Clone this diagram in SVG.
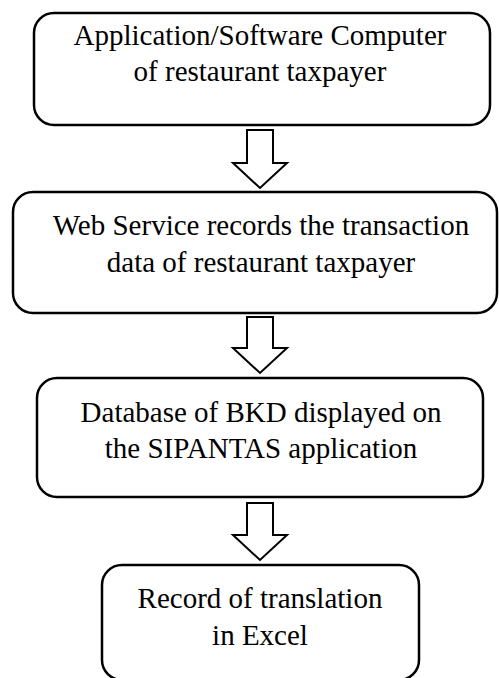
<svg xmlns="http://www.w3.org/2000/svg" width="499" height="678" viewBox="0 0 499 678">
<style>
.box{fill:#fff;stroke:#000;stroke-width:2.5}
.arr{fill:#fff;stroke:#000;stroke-width:2}
text{font-family:"Liberation Serif","Times New Roman",serif;font-size:29px;fill:#000;text-anchor:middle}
</style>
<rect width="499" height="678" fill="#fff"/>
<g id="connectors">
<path class="arr" d="M247,130 H273 V163 H287 L260,188 L233,163 H247 Z"/>
<path class="arr" d="M247,317 H273 V348 H287 L260,373 L233,348 H247 Z"/>
<path class="arr" d="M247,503 H273 V535 H287 L260,560 L233,535 H247 Z"/>
</g>
<g id="node1">
<rect class="box" x="34" y="13" width="456" height="112" rx="20"/>
<text x="260" y="45">Application/Software Computer</text>
<text x="260" y="81">of restaurant taxpayer</text>
</g>
<g id="node2">
<rect class="box" x="13" y="192" width="484" height="121" rx="20"/>
<text x="261" y="235">Web Service records the transaction</text>
<text x="261" y="272">data of restaurant taxpayer</text>
</g>
<g id="node3">
<rect class="box" x="37" y="378" width="446" height="119" rx="20"/>
<text x="261" y="422">Database of BKD displayed on</text>
<text x="261" y="458">the SIPANTAS application</text>
</g>
<g id="node4">
<rect class="box" x="102" y="565" width="317" height="115" rx="20"/>
<text x="260" y="608">Record of translation</text>
<text x="260" y="645">in Excel</text>
</g>
</svg>
